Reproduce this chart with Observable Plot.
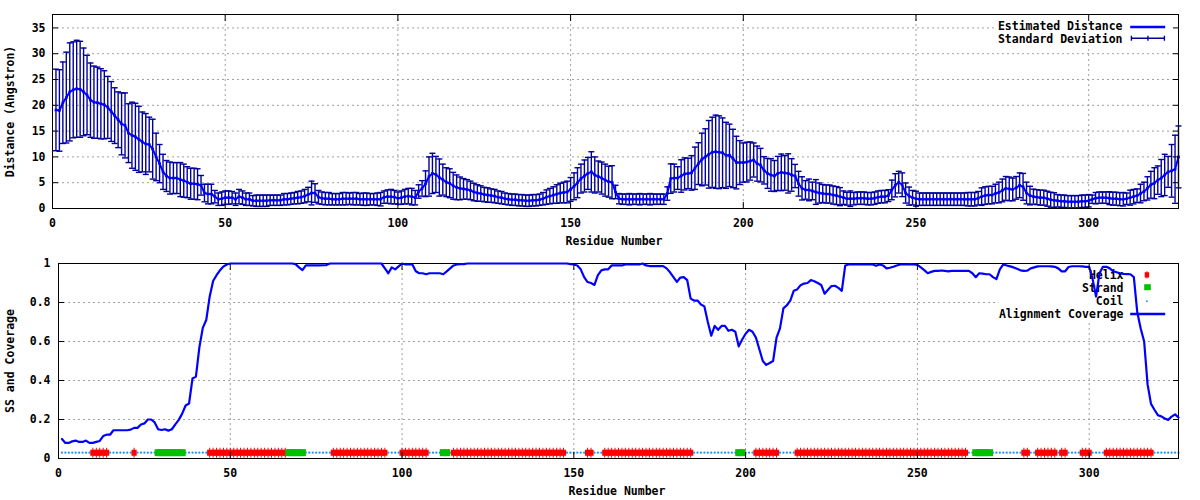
<!DOCTYPE html>
<html><head><meta charset="utf-8">
<script src="https://cdn.jsdelivr.net/npm/d3@7"></script>
<script src="https://cdn.jsdelivr.net/npm/@observablehq/plot@0.6"></script>
<style>
html,body{margin:0;padding:0;background:#fff;}
#chart{width:1200px;height:500px;}
#chart svg{display:block;}
</style></head><body><div id="chart"></div>
<script>
// ---------- data ----------
const nResidues = 326;
const meanDist = [
19.1,19.0,20.5,21.5,22.6,23.0,23.2,23.1,22.6,22.0,
21.0,20.6,20.5,20.3,20.1,19.6,18.8,18.0,17.2,16.4,
16.1,14.6,14.2,13.9,13.4,12.9,12.5,12.4,11.5,10.0,
8.7,7.1,6.3,5.9,5.9,5.9,5.6,5.4,5.1,4.8,
4.8,4.7,4.5,3.0,2.8,2.8,2.3,1.8,1.9,2.1,
2.1,2.1,1.8,2.3,2.1,1.8,1.8,1.5,1.5,1.5,
1.5,1.5,1.6,1.6,1.6,1.6,1.8,1.8,1.9,2.0,
2.1,2.2,2.4,2.7,3.0,3.0,2.2,2.0,1.9,1.9,
1.8,1.8,1.8,1.9,1.9,1.9,1.9,1.9,1.8,1.8,
1.8,1.8,1.8,1.8,1.8,2.2,2.3,2.3,2.2,2.0,
2.1,2.3,2.4,2.3,2.1,3.3,3.9,4.8,6.2,6.8,
6.6,6.0,5.6,5.1,4.9,4.4,4.1,3.9,3.8,3.7,
3.5,3.2,3.0,2.9,2.7,2.6,2.5,2.4,2.2,2.1,
1.9,1.8,1.7,1.7,1.6,1.6,1.5,1.5,1.6,1.6,
1.7,1.9,2.2,2.4,2.6,2.8,3.0,3.1,3.2,3.7,
4.3,5.0,5.8,6.3,6.8,7.1,6.5,6.2,5.9,5.5,
5.2,5.1,3.2,1.9,1.8,1.8,1.8,1.8,1.8,1.8,
1.8,1.8,1.8,1.8,1.8,1.8,1.8,2.9,5.8,5.9,
5.9,6.3,6.7,6.8,6.9,7.8,8.7,9.5,10.0,10.5,
10.9,11.0,10.9,10.8,10.3,10.3,9.7,8.9,8.9,8.9,
9.0,9.2,9.4,8.7,8.4,7.4,6.8,6.5,6.3,6.8,
7.0,6.9,6.8,6.5,6.3,4.8,3.9,3.6,3.6,3.4,
3.2,3.0,2.9,2.8,2.8,2.6,2.5,2.3,2.1,1.9,
1.9,1.9,2.0,2.0,2.0,1.9,1.9,2.0,2.2,2.3,
2.3,2.5,3.6,4.5,5.1,4.6,3.0,2.4,2.1,1.9,
1.8,1.8,1.8,1.8,1.8,1.8,1.8,1.8,1.8,1.8,
1.8,1.8,1.8,1.8,1.8,1.8,1.8,2.0,2.3,2.5,
2.6,2.6,2.9,3.1,3.5,3.9,3.8,3.7,4.0,4.5,
4.2,3.0,2.5,2.3,2.2,2.1,2.1,1.9,1.7,1.6,
1.5,1.4,1.4,1.3,1.3,1.3,1.3,1.4,1.4,1.5,
1.8,2.0,2.1,2.1,2.1,2.0,1.9,1.9,1.8,1.8,
1.9,2.1,2.3,2.5,2.9,3.3,3.9,4.6,4.9,5.5,
5.9,6.5,7.1,7.3,7.6,10.0
];
const sdDist = [
7.9,7.9,7.9,8.8,9.5,9.3,9.4,9.3,8.5,7.7,
7.2,7.0,6.9,6.8,6.6,6.0,5.8,5.4,5.4,6.0,
6.3,5.7,6.4,6.5,6.4,5.8,5.9,5.3,5.8,4.6,
3.7,3.4,3.0,3.1,3.0,3.0,3.3,3.2,3.0,3.0,
3.0,3.0,1.9,1.7,1.9,1.9,1.2,1.2,1.3,1.3,
1.3,1.2,1.2,1.4,1.3,1.2,1.2,1.0,1.1,1.1,
1.1,1.1,1.0,1.0,1.0,1.0,1.1,1.1,1.1,1.1,
1.2,1.2,1.3,1.4,2.3,1.8,1.3,1.2,1.2,1.2,
1.1,1.1,1.1,1.2,1.2,1.1,1.2,1.2,1.1,1.2,
1.2,1.1,1.1,1.2,1.3,1.2,1.3,1.4,1.3,1.2,
1.3,1.4,1.5,1.6,1.4,1.3,1.5,2.5,3.8,3.9,
3.5,3.6,3.0,2.8,2.8,2.6,2.4,2.2,2.0,1.9,
1.8,1.7,1.6,1.5,1.4,1.4,1.3,1.3,1.2,1.2,
1.1,1.1,1.1,1.1,1.1,1.1,1.1,1.1,1.1,1.1,
1.1,1.2,1.4,1.5,1.6,1.8,1.9,2.0,2.1,2.3,
2.6,2.9,2.8,3.1,3.1,3.9,3.5,3.0,3.1,3.1,
3.0,3.2,1.3,1.0,1.0,1.0,1.1,1.0,1.0,1.1,
1.0,1.0,1.1,1.0,1.0,1.0,1.0,1.3,2.85,2.7,
2.2,3.15,3.1,2.95,3.35,4.1,4.05,5.1,5.45,6.55,
6.8,7.1,7.05,6.75,6.4,6.05,5.65,5.1,4.25,3.8,
3.85,3.7,3.3,3.4,3.25,2.65,2.9,3.15,3.0,3.3,
3.55,3.35,3.8,3.15,2.25,2.4,2.25,1.8,2.1,1.7,
2.4,1.95,1.75,1.75,1.75,1.75,1.75,1.75,1.3,1.25,
1.5,1.2,1.2,1.2,1.2,1.2,1.2,1.2,1.2,1.2,
1.2,1.15,1.9,2.25,2.1,2.3,1.95,1.75,1.4,1.45,
1.2,1.2,1.2,1.2,1.2,1.2,1.2,1.2,1.2,1.2,
1.2,1.2,1.2,1.2,1.3,1.3,1.3,1.3,1.7,1.7,
1.7,1.7,1.8,2.0,2.2,2.3,2.3,2.2,2.2,2.4,
2.6,2.1,1.8,1.45,1.45,1.45,1.45,1.45,1.45,1.45,
1.2,1.2,1.2,1.2,1.2,1.2,1.2,1.2,1.2,1.2,
0.8,1.1,1.1,1.1,1.1,1.25,1.25,1.25,1.25,1.3,
1.1,1.45,1.4,1.3,1.8,1.8,2.25,2.6,3.0,2.75,
3.6,4.0,3.0,5.1,6.6,6.0
];
const coverage = [
0.10,0.08,0.08,0.088,0.092,0.085,0.085,0.092,0.08,0.08,
0.085,0.09,0.115,0.122,0.122,0.145,0.145,0.145,0.145,0.145,
0.148,0.157,0.157,0.174,0.18,0.2,0.2,0.185,0.15,0.146,
0.15,0.143,0.15,0.175,0.198,0.23,0.272,0.282,0.41,0.42,
0.57,0.67,0.71,0.83,0.91,0.94,0.965,0.985,0.995,1.0,
1.0,1.0,1.0,1.0,1.0,1.0,1.0,1.0,1.0,1.0,
1.0,1.0,1.0,1.0,1.0,1.0,1.0,1.0,0.997,0.98,
0.966,0.99,0.99,0.991,0.99,0.99,0.991,0.992,1.0,1.0,
1.0,1.0,1.0,1.0,1.0,1.0,1.0,1.0,1.0,1.0,
1.0,1.0,1.0,1.0,0.975,0.95,0.98,0.97,0.985,1.0,
0.995,0.995,0.995,0.96,0.95,0.95,0.945,0.95,0.95,0.95,
0.95,0.945,0.96,0.975,0.99,0.995,0.997,0.997,1.0,1.0,
1.0,1.0,1.0,1.0,1.0,1.0,1.0,1.0,1.0,1.0,
1.0,1.0,1.0,1.0,1.0,1.0,1.0,1.0,1.0,1.0,
1.0,1.0,1.0,1.0,1.0,1.0,1.0,1.0,0.997,0.995,
0.99,0.97,0.93,0.905,0.9,0.89,0.94,0.965,0.97,0.97,
0.99,0.99,0.99,0.99,0.995,0.995,0.995,0.995,0.995,1.0,
0.99,0.987,0.987,0.987,0.987,0.987,0.975,0.955,0.93,0.906,
0.928,0.93,0.915,0.82,0.81,0.81,0.79,0.78,0.7,0.63,
0.68,0.66,0.68,0.68,0.655,0.66,0.65,0.575,0.61,0.64,
0.66,0.65,0.62,0.56,0.5,0.48,0.49,0.5,0.62,0.667,
0.77,0.786,0.81,0.86,0.867,0.889,0.897,0.9,0.915,0.909,
0.9,0.89,0.845,0.865,0.884,0.886,0.875,0.86,0.99,0.995,
0.995,0.995,0.995,0.995,0.995,0.995,0.995,0.988,0.995,0.99,
0.975,0.978,0.983,0.99,0.995,0.995,0.995,0.997,0.995,0.993,
0.98,0.966,0.95,0.957,0.962,0.962,0.964,0.962,0.96,0.962,
0.962,0.962,0.962,0.962,0.962,0.95,0.93,0.95,0.948,0.945,
0.945,0.93,0.92,0.97,0.995,0.99,0.985,0.98,0.973,0.965,
0.962,0.963,0.975,0.98,0.985,0.986,0.986,0.986,0.985,0.983,
0.975,0.96,0.96,0.982,0.986,0.986,0.986,0.985,0.983,0.983,
0.92,0.83,0.95,0.983,0.983,0.975,0.96,0.955,0.95,0.947,
0.946,0.945,0.93,0.75,0.667,0.6,0.38,0.28,0.25,0.222,
0.216,0.205,0.198,0.215,0.226,0.21
];
const helixSegments = [[10,14],[22,22],[44,66],[80,95],[100,107],[115,147],[154,155],[159,184],[203,209],[215,264],[281,282],[285,290],[292,293],[298,300],[305,318]];
const strandSegments = [[29,36],[67,71],[112,113],[198,199],[267,271]];
const ssLevel = 0.03;
const xTicks = [0, 50, 100, 150, 200, 250, 300];
const yTicksTop = [0, 5, 10, 15, 20, 25, 30, 35];
const yTicksBottom = [0, 0.2, 0.4, 0.6, 0.8, 1];
const xDomain = [0, 326];
const yDomainTop = [0, 37.6];
const yDomainBottom = [0, 1];

// ---------- derived tables ----------
const residues = d3.range(1, nResidues + 1);
const distTable = residues.map((r, i) => ({r, mean: meanDist[i], sd: sdDist[i]}));
const covTable = residues.map((r, i) => ({r, v: coverage[i]}));
const inSeg = (segs, r) => segs.some(([a, b]) => r >= a && r <= b);
const ssTable = residues.map(r => ({r, ss: inSeg(strandSegments, r) ? "E" : inSeg(helixSegments, r) ? "H" : "C"}));

// ---------- styles ----------
const BLUE = "#0000ff", DARKBLUE = "#00009a", RED = "#ff0000", GREEN = "#00c000", COIL = "#1e90ff";
const GRID = {stroke: "#a0a0a0", strokeOpacity: 1, strokeDasharray: "2,3", strokeWidth: 1};
const font = {fontFamily: "'DejaVu Sans Mono', monospace", fontSize: "11.5px", fontWeight: "bold", color: "black", background: "white"};

// custom symbols
const capSymbol = {draw(c) { c.moveTo(-3, 0); c.lineTo(3, 0); }};
const helixSymbol = {draw(c) { c.rect(-2.6, -3, 5.2, 6); c.rect(-0.5, -5, 1, 10); }};
const strandSymbol = {draw(c) { c.rect(-3.5, -3.5, 7, 7); }};
const helixKey = {draw(c) { c.rect(-2.2, -2.6, 4.4, 5.2); c.rect(-0.5, -3.6, 1, 7.2); }};
const strandKey = {draw(c) { c.rect(-3.3, -3, 6.6, 6); }};
const lineKey = {draw(c) { c.moveTo(-17.5, 0); c.lineTo(17.5, 0); }};
const errKey = {draw(c) { c.moveTo(-16.5, 0); c.lineTo(16.5, 0); c.moveTo(-16.5, -2.5); c.lineTo(-16.5, 2.5); c.moveTo(0, -2.5); c.lineTo(0, 2.5); c.moveTo(16.5, -2.5); c.lineTo(16.5, 2.5); }};

function keyText(label, dx, dy) {
  return Plot.text([label], {text: d => d, frameAnchor: "top-right", textAnchor: "end", lineAnchor: "middle", dx, dy, fill: "black"});
}
function keyDot(symbol, dx, dy, opts) {
  return Plot.dot([0], {frameAnchor: "top-right", symbol, r: 4, dx, dy, ...opts});
}
function axisLabelY(label, dx) {
  return Plot.text([label], {text: d => d, frameAnchor: "left", textAnchor: "middle", lineAnchor: "middle", dx, rotate: -90, fill: "black"});
}
function axisLabelX(label) {
  return Plot.text([label], {text: d => d, frameAnchor: "bottom", textAnchor: "middle", lineAnchor: "middle", dx: -1.5, dy: 32.4, fill: "black"});
}
function axes(yTicks, yPad, fmt) {
  return [
    Plot.axisX(xTicks, {tickSize: 0, tickPadding: 10, label: null}),
    Plot.axisX(xTicks, {tickSize: -6, fill: "none", label: null}),
    Plot.axisX(xTicks, {anchor: "top", tickSize: -6, fill: "none", label: null}),
    Plot.axisY(yTicks, {tickSize: 0, tickPadding: yPad, label: null, tickFormat: fmt}),
    Plot.axisY(yTicks, {tickSize: -6, fill: "none", label: null}),
    Plot.axisY(yTicks, {anchor: "right", tickSize: -6, fill: "none", label: null})
  ];
}

const topPlot = Plot.plot({
  width: 1200, height: 250,
  marginLeft: 52, marginRight: 22, marginTop: 14, marginBottom: 42,
  style: font,
  x: {domain: xDomain, axis: null, label: null},
  y: {domain: yDomainTop, axis: null, label: null},
  marks: [
    Plot.gridX(xTicks.slice(1), GRID),
    Plot.gridY(yTicksTop.slice(1), GRID),
    Plot.frame({fill: "white", stroke: "none", insetLeft: 943, insetBottom: 163}),
    Plot.ruleX(distTable, {x: "r", y1: d => Math.max(0, d.mean - d.sd), y2: d => d.mean + d.sd, stroke: DARKBLUE, strokeWidth: 1.4}),
    Plot.dot(distTable, {x: "r", y: d => d.mean + d.sd, symbol: capSymbol, r: 3, stroke: DARKBLUE, fill: "none", strokeWidth: 1.4}),
    Plot.dot(distTable.filter(d => d.mean - d.sd > 0), {x: "r", y: d => d.mean - d.sd, symbol: capSymbol, r: 3, stroke: DARKBLUE, fill: "none", strokeWidth: 1.4}),
    Plot.line(distTable, {x: "r", y: "mean", stroke: BLUE, strokeWidth: 2}),
    Plot.dot(distTable, {x: "r", y: "mean", symbol: "square", r: 1.5, fill: BLUE, stroke: "none"}),
    keyText("Estimated Distance", -56, 12.1),
    keyText("Standard Deviation", -56, 25.2),
    keyDot(lineKey, -30.8, 12.4, {stroke: BLUE, fill: "none", strokeWidth: 2.5}),
    keyDot(errKey, -30.6, 23.8, {stroke: DARKBLUE, fill: "none", strokeWidth: 1.4}),
    Plot.frame({stroke: "black", strokeWidth: 1}),
    ...axes(yTicksTop, 7, d => String(d)),
    axisLabelY("Distance (Angstron)", -42),
    axisLabelX("Residue Number")
  ]
});

const bottomPlot = Plot.plot({
  width: 1200, height: 250,
  marginLeft: 58, marginRight: 22, marginTop: 13, marginBottom: 42,
  style: font,
  x: {domain: xDomain, axis: null, label: null},
  y: {domain: yDomainBottom, axis: null, label: null},
  marks: [
    Plot.gridX(xTicks.slice(1), GRID),
    Plot.gridY(yTicksBottom.slice(1, -1), GRID),
    Plot.frame({fill: "white", stroke: "none", insetLeft: 940, insetBottom: 138}),
    keyText("Helix", -55, 12),
    keyText("Strand", -55, 24.7),
    keyText("Coil", -55, 37.7),
    keyText("Alignment Coverage", -55, 50.4),
    keyDot(helixKey, -31.6, 11.4, {fill: RED, stroke: "none"}),
    keyDot(strandKey, -31, 23.7, {fill: GREEN, stroke: "none"}),
    keyDot("circle", -31.6, 37.7, {fill: COIL, stroke: "none", r: 0.9}),
    keyDot(lineKey, -30.8, 50.4, {stroke: BLUE, fill: "none", strokeWidth: 2.5}),
    Plot.dot(ssTable.filter(d => d.ss === "C"), {x: "r", y: () => ssLevel, r: 1.1, fill: COIL, stroke: "none"}),
    Plot.dot(ssTable.filter(d => d.ss === "H"), {x: "r", y: () => ssLevel, symbol: helixSymbol, r: 4, fill: RED, stroke: "none"}),
    Plot.dot(ssTable.filter(d => d.ss === "E"), {x: "r", y: () => ssLevel, symbol: strandSymbol, r: 4, fill: GREEN, stroke: "none"}),
    Plot.frame({stroke: "black", strokeWidth: 1}),
    Plot.line(covTable, {x: "r", y: "v", stroke: BLUE, strokeWidth: 2.2}),
    ...axes(yTicksBottom, 8, d => String(d)),
    axisLabelY("SS and Coverage", -48),
    axisLabelX("Residue Number")
  ]
});

document.getElementById("chart").append(topPlot, bottomPlot);
</script>
</body></html>
